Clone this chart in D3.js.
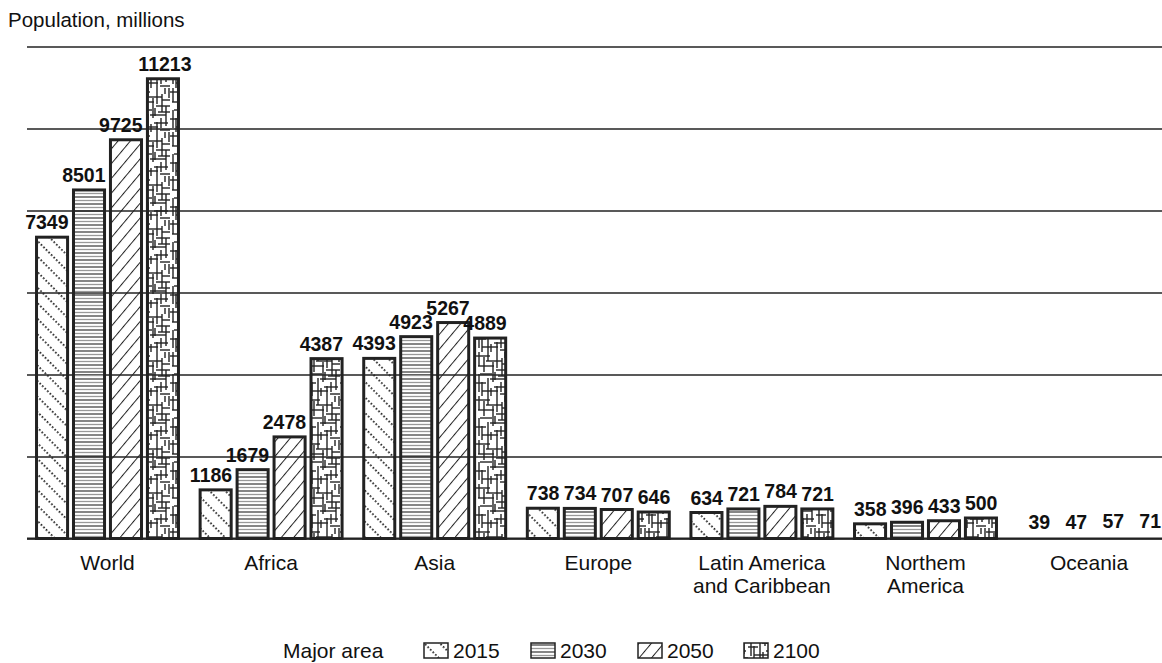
<!DOCTYPE html>
<html><head><meta charset="utf-8">
<script src="https://cdn.jsdelivr.net/npm/d3@7"></script>
<style>body{margin:0;background:#fff} text{font-family:"Liberation Sans",Arial,Helvetica,sans-serif;fill:#111}</style>
</head><body><svg id="c" width="1162" height="663"></svg>
<script>
const categories = ["World","Africa","Asia","Europe","Latin America\nand Caribbean","Northem\nAmerica","Oceania"];
const years = ["2015","2030","2050","2100"];
const v2015 = [7349,1186,4393,738,634,358,39];
const v2030 = [8501,1679,4923,734,721,396,47];
const v2050 = [9725,2478,5267,707,784,433,57];
const v2100 = [11213,4387,4889,646,721,500,71];
const yTicks = [0,2000,4000,6000,8000,10000,12000];
const yTitle = "Population, millions";
const legendTitle = "Major area";

const series = [v2015, v2030, v2050, v2100];
const svg = d3.select("#c");
const W = 1162;

// patterns
const defs = svg.append("defs");
const p1 = defs.append("pattern").attr("id","p2015").attr("patternUnits","userSpaceOnUse")
  .attr("width",3.6).attr("height",11).attr("patternTransform","rotate(45)");
p1.append("rect").attr("x",0).attr("y",0).attr("width",1.7).attr("height",1.7).attr("fill","#222");
const p2 = defs.append("pattern").attr("id","p2030").attr("patternUnits","userSpaceOnUse")
  .attr("width",10).attr("height",7);
p2.append("line").attr("x1",0).attr("x2",10).attr("y1",1).attr("y2",1).attr("stroke","#222").attr("stroke-width",1.1);
p2.append("line").attr("x1",0).attr("x2",10).attr("y1",4.5).attr("y2",4.5).attr("stroke","#999").attr("stroke-width",1.3);
const p3 = defs.append("pattern").attr("id","p2050").attr("patternUnits","userSpaceOnUse")
  .attr("width",10).attr("height",9.5).attr("patternTransform","rotate(-50)");
p3.append("line").attr("x1",0).attr("x2",10).attr("y1",0.5).attr("y2",0.5).attr("stroke","#222").attr("stroke-width",1);
const p4 = defs.append("pattern").attr("id","p2100").attr("patternUnits","userSpaceOnUse")
  .attr("width",34).attr("height",44);
const vs = [[3,0,14],[3,22,40],[8,5,20],[12,0,9],[12,26,44],[17,10,30],[21,0,16],[21,34,44],[26,6,24],[30,18,38],[33,0,10],[6,30,44],[15,36,44],[25,30,40],[29,0,6],[19,20,28]];
const hs = [[4,0,14],[9,10,26],[14,2,18],[18,20,34],[22,4,16],[27,14,30],[31,0,10],[35,18,32],[39,6,22],[42,24,34],[12,26,34],[24,22,34]];
vs.forEach(s=>p4.append("line").attr("x1",s[0]).attr("x2",s[0]).attr("y1",s[1]).attr("y2",s[2]).attr("stroke","#222").attr("stroke-width",1.4));
hs.forEach(s=>p4.append("line").attr("y1",s[0]).attr("y2",s[0]).attr("x1",s[1]).attr("x2",s[2]).attr("stroke","#222").attr("stroke-width",1.4));
const fills = {"2015":"url(#p2015)","2030":"url(#p2030)","2050":"url(#p2050)","2100":"url(#p2100)"};

// scales
const x0 = d3.scaleBand().domain(categories).range([25.7, 1170.9]).paddingInner(0.114).paddingOuter(0.057);
const x1 = d3.scaleBand().domain(years).range([1.5, x0.bandwidth()-1.5]).paddingInner(0.16);
const y = d3.scaleLinear().domain([0,12000]).range([538.5, 46.5]);

// title
svg.append("text").attr("x",8).attr("y",27).style("font-size","20.5px").text(yTitle);

// gridlines
const gx = 27;
const grid = svg.append("g").attr("transform",`translate(${gx},0)`)
  .call(d3.axisLeft(y).tickValues(yTicks).tickSizeInner(-(W-gx)).tickSizeOuter(0).tickFormat(""));
grid.select(".domain").remove();
grid.selectAll(".tick line").attr("stroke","#222").attr("stroke-width",1.6);

// bars
const rows = [];
categories.forEach((c,i)=>years.forEach((yr,j)=>rows.push({c, yr, v: series[j][i]})));
const g = svg.append("g");
const visible = d => (y(0)-y(d.v)) > 5;
g.selectAll("rect").data(rows).join("rect")
  .attr("x",d=>x0(d.c)+x1(d.yr))
  .attr("width",x1.bandwidth())
  .attr("y",d=>y(d.v))
  .attr("height",d=>y(0)-y(d.v))
  .attr("fill",d=> visible(d) ? fills[d.yr] : "#fff")
  .attr("stroke",d=> visible(d) ? "#222" : "none")
  .attr("stroke-width",3);

// baseline + category axis
const xa = svg.append("g").attr("transform",`translate(0,${y(0)})`)
  .call(d3.axisBottom(x0).tickSize(0).tickPadding(0));
xa.select(".domain").remove();
svg.append("line").attr("x1",gx).attr("x2",W).attr("y1",y(0)).attr("y2",y(0)).attr("stroke","#222").attr("stroke-width",2);
xa.selectAll(".tick text").each(function(d){
  const t = d3.select(this).text("").attr("dy",null).attr("y",31).style("font-size","21px").attr("fill","#111");
  d.split("\n").forEach((line,k)=>t.append("tspan").attr("x",0).attr("dy",k?23:0).text(line));
});

// value labels
g.selectAll("text.v").data(rows).join("text").attr("class","v")
  .attr("x",d=> String(d.v).length > 4 ? x0(d.c)+x1(d.yr)+x1.bandwidth()/2 + 2 : x0(d.c)+x1(d.yr)+x1.bandwidth()+1)
  .attr("y",d=>y(d.v)-8)
  .attr("text-anchor",d=> String(d.v).length > 4 ? "middle" : "end")
  .style("font-size","19.5px").style("font-weight","bold")
  .text(d=>d.v);

// legend
const ly = 658;
svg.append("text").attr("x",283).attr("y",ly).style("font-size","21px").text(legendTitle);
const lx = [424, 531, 638, 744];
years.forEach((yr,i)=>{
  svg.append("rect").attr("x",lx[i]).attr("y",ly-15).attr("width",24).attr("height",15)
    .attr("fill",fills[yr]).attr("stroke","#222").attr("stroke-width",1.5);
  svg.append("text").attr("x",lx[i]+29).attr("y",ly).style("font-size","21px").text(yr);
});
</script></body></html>
